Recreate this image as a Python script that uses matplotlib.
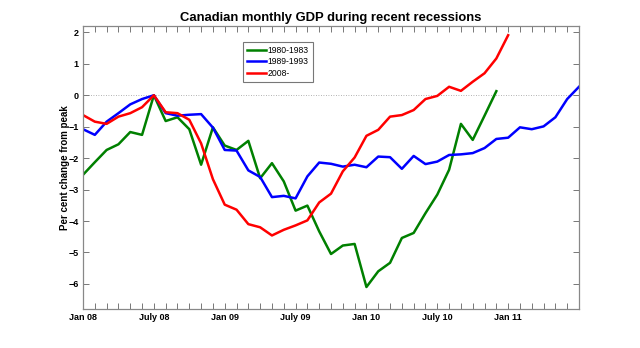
import matplotlib
matplotlib.use("Agg")
import matplotlib.pyplot as plt
import numpy as np

# per cent change from peak, monthly, starting Jan 08 (peak = month 6)
gdp_1980 = [-2.53, -2.13, -1.74, -1.56, -1.17, -1.26, 0.0, -0.82, -0.70, -1.08,
            -2.21, -1.02, -1.60, -1.74, -1.45, -2.64, -2.16, -2.74, -3.67, -3.51,
            -4.33, -5.05, -4.78, -4.73, -6.10, -5.60, -5.33, -4.54, -4.38, -3.75,
            -3.16, -2.37, -0.91, -1.42, -0.65, 0.13]
gdp_1989 = [-1.08, -1.26, -0.84, -0.57, -0.29, -0.12, 0.0, -0.57, -0.65, -0.62,
            -0.60, -1.03, -1.74, -1.76, -2.39, -2.60, -3.24, -3.20, -3.28, -2.58,
            -2.14, -2.18, -2.27, -2.21, -2.29, -1.95, -1.97, -2.34, -1.93, -2.19,
            -2.11, -1.90, -1.88, -1.84, -1.68, -1.39, -1.35, -1.02, -1.08, -0.99,
            -0.70, -0.12, 0.27]
gdp_2008 = [-0.63, -0.84, -0.91, -0.68, -0.57, -0.38, 0.0, -0.54, -0.57, -0.78,
            -1.53, -2.67, -3.48, -3.64, -4.10, -4.20, -4.46, -4.28, -4.14, -3.98,
            -3.41, -3.13, -2.42, -1.98, -1.29, -1.10, -0.68, -0.63, -0.47, -0.12,
            -0.02, 0.27, 0.14, 0.43, 0.70, 1.17, 1.91]

series_names = ["1980-1983", "1989-1993", "2008-"]
series_colors = ["#008000", "#0000ff", "#ff0000"]

tick_months = [0, 6, 12, 18, 24, 30, 36]
tick_labels = ["Jan 08", "July 08", "Jan 09", "July 09", "Jan 10", "July 10", "Jan 11"]
n_months = 42

plt.rcParams["font.family"] = ["Liberation Sans", "DejaVu Sans"]

fig = plt.figure(figsize=(6.4, 3.48), dpi=100)
ax = fig.add_axes([0.1297, 0.112, 0.775, 0.813])

for values, name, color in zip([gdp_1980, gdp_1989, gdp_2008], series_names, series_colors):
    ax.plot(np.arange(len(values)), values, color=color, lw=1.8, label=name)

ax.axhline(0, color="#999999", lw=0.6, ls=(0, (1, 2)), zorder=0)

ax.set_xlim(0, n_months)
ax.set_ylim(-6.8, 2.2)
ax.set_xticks(tick_months)
ax.set_xticklabels(tick_labels)
ax.set_xticks(np.arange(0, n_months + 1), minor=True)
ax.set_yticks(np.arange(-6, 3))

ax.tick_params(which="both", direction="in", top=True, right=True,
               color="#777777", labelsize=6.5, pad=3)
ax.tick_params(which="both", length=4, width=0.7)
for lab in ax.get_xticklabels() + ax.get_yticklabels():
    lab.set_fontweight("bold")
for sp in ax.spines.values():
    sp.set_color("#888888")
    sp.set_linewidth(0.9)

ax.set_title("Canadian monthly GDP during recent recessions",
             fontsize=9.4, fontweight="bold", pad=4)
ax.set_ylabel("Per cent change from peak", fontsize=7, fontweight="bold", labelpad=-1)

leg = ax.legend(loc="upper left", bbox_to_anchor=(0.322, 0.945), fontsize=6.2,
                frameon=True, fancybox=False, handlelength=2.3, handletextpad=0.15,
                borderpad=0.45, labelspacing=0.3, borderaxespad=0)
leg.get_frame().set_edgecolor("#555555")
leg.get_frame().set_linewidth(0.8)

fig.savefig("out.png", dpi=100)
